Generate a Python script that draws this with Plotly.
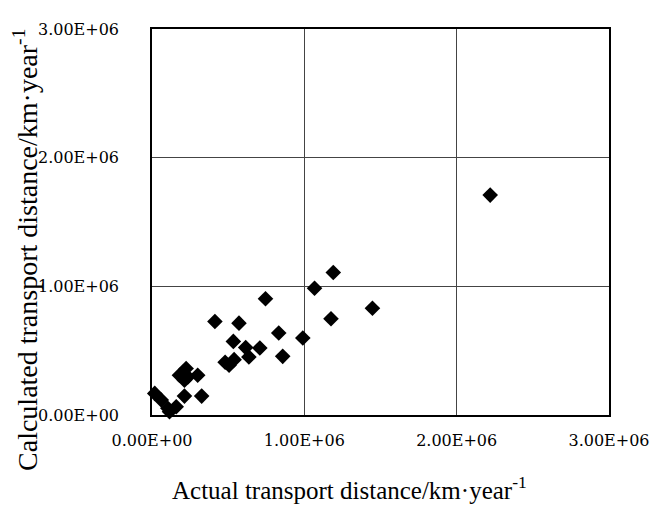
import plotly.graph_objects as go

# Actual transport distance (km/year)
actual = [1.19e6, 1.067e6, 1.447e6, 1.175e6, 0.745e6, 0.413e6, 0.571e6, 0.832e6,
          0.990e6, 0.534e6, 0.615e6, 0.708e6, 0.636e6, 0.858e6, 0.48e6, 0.539e6,
          0.506e6, 0.224e6, 0.180e6, 0.300e6, 0.235e6, 0.213e6, 0.213e6, 0.326e6,
          0.018e6, 0.061e6, 0.104e6, 0.159e6, 0.115e6, 2.22e6]
# Calculated transport distance (km/year)
calculated = [1.108e6, 0.985e6, 0.830e6, 0.748e6, 0.903e6, 0.727e6, 0.714e6, 0.637e6,
              0.598e6, 0.572e6, 0.524e6, 0.521e6, 0.451e6, 0.456e6, 0.41e6, 0.43e6,
              0.387e6, 0.361e6, 0.309e6, 0.309e6, 0.296e6, 0.271e6, 0.147e6, 0.147e6,
              0.168e6, 0.116e6, 0.052e6, 0.064e6, 0.026e6, 1.709e6]

tick_vals = [0, 1e6, 2e6, 3e6]
tick_text = ["0.00E+00", "1.00E+06", "2.00E+06", "3.00E+06"]

fig = go.Figure()
fig.add_trace(go.Scatter(
    x=actual, y=calculated, mode="markers",
    marker=dict(symbol="diamond", size=12, color="black"),
    showlegend=False, cliponaxis=False,
))

tick_font = dict(family="DejaVu Serif", size=16, color="black")
axis_common = dict(
    range=[0, 3e6], tickvals=tick_vals, ticktext=tick_text,
    showgrid=True, gridcolor="#444", gridwidth=1,
    showline=True, linecolor="black", linewidth=1.5, mirror=True,
    zeroline=False, ticks="", tickfont=tick_font,
)
fig.update_xaxes(**axis_common, ticklabelstandoff=10)
fig.update_yaxes(**axis_common, ticklabelstandoff=28)

# page body adds an 8px offset; plot area targets x 152-613, y 27-415 in the window
fig.add_annotation(
    text="Actual transport distance/km·year<sup>-1</sup>",
    xref="paper", yref="paper", x=(351 - 152) / 461, y=-(488 - 415) / 388,
    showarrow=False, xanchor="center", yanchor="middle",
    font=dict(family="Liberation Serif", size=25, color="black"),
)
fig.add_annotation(
    text="Calculated transport distance/km·year<sup>-1</sup>",
    xref="paper", yref="paper", x=-(152 - 25) / 461, y=(415 - 249) / 388,
    showarrow=False, xanchor="center", yanchor="middle", textangle=-90,
    font=dict(family="Liberation Serif", size=28, color="black"),
)

fig.update_layout(
    width=654, height=500,
    margin=dict(l=144, r=49, t=19, b=93),
    plot_bgcolor="white", paper_bgcolor="white",
)
fig.write_html("out.html")
